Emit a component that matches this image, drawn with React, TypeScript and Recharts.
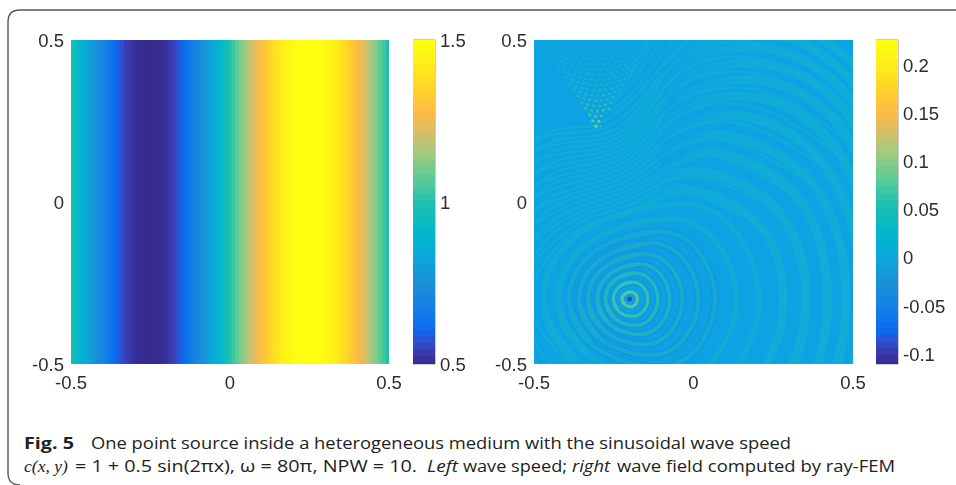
import {
  Bar,
  BarChart,
  Cell,
  ComposedChart,
  Line,
  ReferenceArea,
  Scatter,
  XAxis,
  YAxis,
  ZAxis,
} from 'recharts';

// parula-like colour ramp: [fraction, colour]
const rampStops: [number, string][] = [
  [0, '#372c8e'], [0.03, '#3833a2'], [0.05, '#3840b8'], [0.07, '#3050d0'], [0.09, '#2258e0'], [0.11, '#0a6cf0'],
  [0.18, '#1580e4'], [0.25, '#1a90d8'], [0.35, '#08acd8'], [0.42, '#05b8c8'],
  [0.5, '#1fc0ae'], [0.58, '#5fcb94'], [0.66, '#a6c97f'], [0.72, '#d6bf66'],
  [0.78, '#fdbb45'], [0.85, '#ffd22c'], [0.92, '#ffeb1a'], [1, '#ffff10'],
];

const axisTicks = [-0.5, 0, 0.5];
const speedTicks = [0.5, 1, 1.5];
const fieldTicks = [-0.1, -0.05, 0, 0.05, 0.1, 0.15, 0.2];

// left panel: wave speed per column, left to right, step 0.0125
const speeds = [
  1, 0.96, 0.92, 0.88, 0.85, 0.81, 0.77, 0.74, 0.71, 0.68, 0.65, 0.62, 0.6, 0.57, 0.55, 0.54, 0.52, 0.51, 0.51, 0.5, 0.5,
  0.5, 0.51, 0.51, 0.52, 0.54, 0.55, 0.57, 0.6, 0.62, 0.65, 0.68, 0.71, 0.74, 0.77, 0.81, 0.85, 0.88, 0.92, 0.96, 1,
  1.04, 1.08, 1.12, 1.15, 1.19, 1.23, 1.26, 1.29, 1.32, 1.35, 1.38, 1.4, 1.43, 1.45, 1.46, 1.48, 1.49, 1.49, 1.5, 1.5,
  1.5, 1.49, 1.49, 1.48, 1.46, 1.45, 1.43, 1.4, 1.38, 1.35, 1.32, 1.29, 1.26, 1.23, 1.19, 1.15, 1.12, 1.08, 1.04, 1,
];

const speedLevels = [
  0.5, 0.52, 0.54, 0.56, 0.58, 0.6, 0.62, 0.64, 0.66, 0.68, 0.7, 0.72, 0.74, 0.76, 0.78, 0.8, 0.82,
  0.84, 0.86, 0.88, 0.9, 0.92, 0.94, 0.96, 0.98, 1, 1.02, 1.04, 1.06, 1.08, 1.1, 1.12, 1.14, 1.16,
  1.18, 1.2, 1.22, 1.24, 1.26, 1.28, 1.3, 1.32, 1.34, 1.36, 1.38, 1.4, 1.42, 1.44, 1.46, 1.48, 1.5,
];

const fieldLevels = [
  -0.11, -0.103, -0.096, -0.089, -0.082, -0.075, -0.068, -0.061, -0.054, -0.047, -0.04, -0.033, -0.026,
  -0.019, -0.012, -0.005, 0.002, 0.009, 0.016, 0.023, 0.03, 0.037, 0.044, 0.051, 0.058, 0.065, 0.072,
  0.079, 0.086, 0.093, 0.1, 0.107, 0.114, 0.121, 0.128, 0.135, 0.142, 0.149, 0.156, 0.163, 0.17, 0.177,
  0.184, 0.191, 0.198, 0.205, 0.212, 0.219, 0.226,
];

// right panel, rings closed around the source, upper half: left, shoulder, top, shoulder, right
const closedRings: number[][][] = [
  [[-0.224, -0.3], [-0.216, -0.284], [-0.198, -0.277], [-0.182, -0.284], [-0.176, -0.3]],
  [[-0.251, -0.3], [-0.234, -0.2625], [-0.193, -0.247], [-0.158, -0.2625], [-0.143, -0.3]],
  [[-0.276, -0.3], [-0.249, -0.243], [-0.185, -0.219], [-0.133, -0.243], [-0.112, -0.3]],
  [[-0.301, -0.3], [-0.263, -0.223], [-0.172, -0.191], [-0.103, -0.223], [-0.075, -0.3]],
  [[-0.33, -0.3], [-0.279, -0.201], [-0.157, -0.16], [-0.071, -0.201], [-0.035, -0.3]],
  [[-0.358, -0.3], [-0.293, -0.178], [-0.137, -0.127], [-0.03, -0.178], [0.015, -0.3]],
  [[-0.39, -0.3], [-0.309, -0.152], [-0.112, -0.091], [0.015, -0.152], [0.068, -0.3]],
  [[-0.425, -0.3], [-0.325, -0.124], [-0.083, -0.051], [0.071, -0.124], [0.135, -0.3]],
  [[-0.47, -0.3], [-0.346, -0.091], [-0.048, -0.005], [0.132, -0.091], [0.206, -0.3]],
];
const closedColors = ['#58cb96', '#38c4a8', '#25bdb6', '#1fb9bc', '#1bb5c2', '#18b3c8', '#14b1cc', '#12b0d0', '#10afd6'];
const closedWidths = [3, 3, 3.2, 3.4, 3.6, 3.8, 4, 4.5, 5];
const closedOpacity = [0.95, 0.9, 0.85, 0.8, 0.75, 0.72, 0.7, 0.7, 0.72];
const underWidths = [5, 7, 8, 8, 8, 8, 8, 0, 0];

// larger rings: left part from the left extreme to the top of the ring
const ringLeft: number[][][] = [
  [[-0.518, -0.3], [-0.5, -0.224], [-0.4, -0.104], [-0.3, -0.052], [-0.2, -0.03], [-0.1, 0.02], [-0.008, 0.038]],
  [[-0.56, -0.3], [-0.5, -0.145], [-0.4, -0.064], [-0.3, -0.022], [-0.2, 0], [-0.1, 0.07], [0.04, 0.09]],
  [[-0.6, -0.3], [-0.5, -0.09], [-0.4, -0.028], [-0.3, 0.006], [-0.2, 0.03], [-0.1, 0.1], [0, 0.145], [0.09, 0.15]],
  [[-0.64, -0.3], [-0.5, -0.044], [-0.4, 0.005], [-0.3, 0.035], [-0.2, 0.06], [-0.1, 0.145], [0, 0.195], [0.13, 0.2]],
  [[-0.68, -0.3], [-0.5, 0], [-0.4, 0.035], [-0.3, 0.063], [-0.2, 0.09], [-0.1, 0.19], [0, 0.245], [0.18, 0.26]],
  [[-0.72, -0.3], [-0.5, 0.038], [-0.4, 0.075], [-0.3, 0.09], [-0.2, 0.12], [-0.1, 0.235], [0, 0.3], [0.21, 0.32]],
  [[-0.76, -0.3], [-0.5, 0.069], [-0.4, 0.106], [-0.3, 0.119], [-0.2, 0.15], [-0.1, 0.275], [0, 0.345], [0.24, 0.37]],
  [[-0.8, -0.3], [-0.5, 0.11], [-0.4, 0.138], [-0.3, 0.147], [-0.2, 0.175], [-0.1, 0.32], [0, 0.395], [0.25, 0.42]],
  [[-0.84, -0.3], [-0.5, 0.147], [-0.4, 0.17], [-0.3, 0.175], [-0.2, 0.2], [-0.1, 0.355], [0, 0.44], [0.25, 0.47]],
  [[-0.88, -0.3], [-0.5, 0.181], [-0.4, 0.2], [-0.3, 0.2], [-0.2, 0.235], [-0.1, 0.395], [0, 0.485], [0.25, 0.52]],
  [[-0.92, -0.3], [-0.5, 0.215], [-0.4, 0.232], [-0.3, 0.228], [-0.2, 0.3], [-0.1, 0.42], [0, 0.53], [0.25, 0.57]],
];

// and the right part: top, shoulder, right extreme
const ringRight: number[][][] = [
  [[-0.008, 0.038], [0.196, -0.061], [0.281, -0.3]],
  [[0.04, 0.09], [0.261, -0.024], [0.353, -0.3]],
  [[0.09, 0.15], [0.323, 0.018], [0.42, -0.3]],
  [[0.13, 0.2], [0.376, 0.054], [0.478, -0.3]],
  [[0.18, 0.26], [0.424, 0.096], [0.525, -0.3]],
  [[0.21, 0.32], [0.465, 0.138], [0.57, -0.3]],
  [[0.24, 0.37], [0.499, 0.174], [0.606, -0.3]],
  [[0.25, 0.42], [0.524, 0.209], [0.637, -0.3]],
  [[0.25, 0.47], [0.545, 0.244], [0.667, -0.3]],
  [[0.25, 0.52], [0.564, 0.28], [0.694, -0.3]],
  [[0.25, 0.57], [0.582, 0.315], [0.72, -0.3]],
];
const rightWidths = [8, 9, 9, 9, 9, 9, 9, 9, 9, 9, 9];

// extra tight bands between the crests, left of the slope
const channelBands: number[][] = [
  [-0.185, -0.084, -0.037, -0.015, 0.045],
  [-0.118, -0.046, -0.008, 0.015, 0.085],
  [-0.067, -0.012, 0.02, 0.045, 0.122],
  [-0.022, 0.02, 0.049, 0.075, 0.167],
  [0.019, 0.055, 0.076, 0.105, 0.212],
  [0.053, 0.09, 0.104, 0.135, 0.255],
  [0.09, 0.122, 0.133, 0.162, 0.297],
  [0.128, 0.154, 0.161, 0.187, 0.337],
  [0.164, 0.185, 0.188, 0.217, 0.375],
  [0.198, 0.216, 0.214, 0.267, 0.398],
];
const channelX = [-0.5, -0.4, -0.3, -0.2, -0.1];

// arcs leaving the cusp to the upper right
const foldBands: number[][][] = [
  [[-0.28, 0.27], [-0.2, 0.33], [-0.1, 0.45], [0, 0.58]],
  [[-0.25, 0.31], [-0.2, 0.36], [-0.1, 0.5]],
  [[-0.22, 0.36], [-0.15, 0.46], [-0.1, 0.54]],
  [[-0.2, 0.4], [-0.13, 0.52]],
];

// dotted interference arcs in the triangle above the cusp: yMid, xLeft, xRight, yEnd
const cuspArcs: number[][] = [
  [0.232, -0.31, -0.29, 0.235], [0.248, -0.32, -0.285, 0.252], [0.264, -0.33, -0.275, 0.27],
  [0.28, -0.342, -0.262, 0.29], [0.296, -0.354, -0.25, 0.309], [0.312, -0.366, -0.238, 0.328],
  [0.328, -0.378, -0.226, 0.347], [0.344, -0.39, -0.214, 0.366], [0.36, -0.402, -0.202, 0.385],
  [0.376, -0.414, -0.19, 0.404], [0.392, -0.426, -0.178, 0.423], [0.408, -0.438, -0.166, 0.442],
  [0.424, -0.45, -0.154, 0.461], [0.44, -0.462, -0.142, 0.48], [0.456, -0.474, -0.13, 0.499],
];
const cuspColors = ['#98cc70', '#70ca84', '#50c698', '#38c2a6', '#2abeb0', '#24bab8', '#1eb7be', '#1ab5c4', '#18b3c8', '#16b1cc', '#15b0ce', '#14afd0', '#13aed2', '#12add4', '#11acd6'];

const sourcePoint = [{ x: -0.2, y: -0.3 }];

const hexToRgb = (h: string) => [1, 3, 5].map((i) => parseInt(h.slice(i, i + 2), 16));

function rampColor(t: number) {
  for (let i = 1; i < rampStops.length; i++) {
    if (t <= rampStops[i][0]) {
      const [a, ca] = rampStops[i - 1];
      const [b, cb] = rampStops[i];
      const f = (t - a) / (b - a);
      const c0 = hexToRgb(ca);
      const c1 = hexToRgb(cb);
      return `rgb(${c0.map((v, k) => Math.round(v + (c1[k] - v) * f)).join(',')})`;
    }
  }
  return rampStops[rampStops.length - 1][1];
}

const toPoint = (p: number[]) => ({ x: p[0], y: p[1] });
// the field is symmetric about the source row y = -0.3
const flip = (p: number[]) => [p[0], -0.6 - p[1]];
const flippedBack = (row: number[][]) => [...row].reverse().map(flip);

const tickStyle = { fill: '#2d2d2d', fontSize: 18.5, fontFamily: '"Liberation Sans", Arial, sans-serif' };
const columnData = speeds.map((speed, i) => ({ x: -0.5 + i * 0.0125, speed, span: [-0.5, 0.5] }));

function ColorBar({ levels, lo, hi, ticks, left }: { levels: number[]; lo: number; hi: number; ticks: number[]; left: number }) {
  const data = levels.map((level) => ({ level, span: [0, 1] }));
  return (
    <div style={{ position: 'absolute', left, top: 0, filter: 'blur(0.4px)' }}>
      <BarChart width={80} height={400} data={data} layout="vertical" margin={{ top: 40, bottom: 36, left: 0, right: 0 }}>
        <XAxis type="number" hide domain={[0, 1]} allowDataOverflow />
        <YAxis
          type="number"
          dataKey="level"
          orientation="right"
          reversed
          width={58}
          domain={[lo, hi]}
          ticks={ticks}
          interval={0}
          allowDataOverflow
          axisLine={false}
          tickLine={false}
          tickSize={0}
          tickMargin={5}
          tick={tickStyle}
          tickFormatter={(v: number) => String(v)}
        />
        <Bar dataKey="span" barSize={9} isAnimationActive={false}>
          {levels.map((level) => {
            const c = rampColor((level - lo) / (hi - lo));
            return <Cell key={level} fill={c} stroke={c} strokeWidth={4} />;
          })}
        </Bar>
        <ReferenceArea x1={0} x2={1} y1={lo} y2={hi} fill="none" stroke="#9a9a9a" strokeWidth={1} />
      </BarChart>
    </div>
  );
}

function SpeedPanel() {
  return (
    <div style={{ position: 'absolute', left: 0, top: 0, filter: 'blur(0.4px)' }}>
      <BarChart width={420} height={400} data={columnData} margin={{ top: 40, bottom: 6, left: 11, right: 31 }}>
        <XAxis type="number" dataKey="x" domain={[-0.5, 0.5]} ticks={axisTicks} interval={0} allowDataOverflow height={30} axisLine={false} tickLine={false} tickMargin={6} tick={tickStyle} />
        <YAxis type="number" domain={[-0.5, 0.5]} ticks={axisTicks} interval={0} allowDataOverflow width={60} axisLine={false} tickLine={false} tickSize={0} tickMargin={7} tick={tickStyle} />
        <Bar dataKey="span" barSize={5} isAnimationActive={false}>
          {speeds.map((speed, i) => {
            const c = rampColor(speed - 0.5);
            return <Cell key={i} fill={c} stroke={c} strokeWidth={1.5} />;
          })}
        </Bar>
      </BarChart>
    </div>
  );
}

function FieldPanel() {
  const crest = '#10afd6';
  return (
    <div style={{ position: 'absolute', left: 463, top: 0, filter: 'blur(0.6px)' }}>
      <ComposedChart width={420} height={400} margin={{ top: 40, bottom: 6, left: 11, right: 30 }}>
        <defs>
          {/* wide right arcs fade in so they meet the thin left arcs without a step */}
          <linearGradient id="arcFade" x1="0" x2="1" y1="0" y2="0">
            <stop offset="0" stopColor={crest} stopOpacity={0} />
            <stop offset="0.38" stopColor={crest} stopOpacity={0.8} />
            <stop offset="1" stopColor={crest} stopOpacity={0.8} />
          </linearGradient>
        </defs>
        <XAxis type="number" dataKey="x" domain={[-0.5, 0.5]} ticks={axisTicks} interval={0} allowDataOverflow height={30} axisLine={false} tickLine={false} tickMargin={6} tick={tickStyle} />
        <YAxis type="number" dataKey="y" domain={[-0.5, 0.5]} ticks={axisTicks} interval={0} allowDataOverflow width={60} axisLine={false} tickLine={false} tickSize={0} tickMargin={7} tick={tickStyle} />
        <ZAxis range={[18, 18]} />
        <ReferenceArea x1={-0.5} x2={0.5} y1={-0.5} y2={0.5} fill="#0da2e2" fillOpacity={1} stroke="none" />
        {ringRight.map((row, i) => {
          const left = ringLeft[i];
          const before = left.slice(-3, -1);
          return (
            <Line
              key={`r${i}`}
              data={[...before, ...row, ...flippedBack(row.slice(0, -1)), ...flippedBack(before)].map(toPoint)}
              dataKey="y"
              type="natural"
              stroke="url(#arcFade)"
              strokeWidth={rightWidths[i]}
              dot={false}
              isAnimationActive={false}
            />
          );
        })}
        {ringLeft.map((row, i) => (
          <Line
            key={`l${i}`}
            data={[...flippedBack(row.slice(1)), ...row, ringRight[i][1]].map(toPoint)}
            dataKey="y"
            type="basis"
            stroke={crest}
            strokeOpacity={0.8}
            strokeWidth={2.4}
            dot={false}
            isAnimationActive={false}
          />
        ))}
        {closedRings.map((row, i) => (
          <Line
            key={`u${i}`}
            data={[flip(row[1]), ...row, ...flippedBack(row.slice(0, -1)), row[1], row[2]].map(toPoint)}
            dataKey="y"
            type="natural"
            stroke="#1692e6"
            strokeOpacity={0.6}
            strokeWidth={underWidths[i]}
            dot={false}
            isAnimationActive={false}
          />
        ))}
        {closedRings.map((row, i) => (
          <Line
            key={`o${i}`}
            data={[flip(row[1]), ...row, ...flippedBack(row.slice(0, -1)), row[1], row[2]].map(toPoint)}
            dataKey="y"
            type="natural"
            stroke={closedColors[i]}
            strokeOpacity={closedOpacity[i]}
            strokeWidth={closedWidths[i]}
            dot={false}
            isAnimationActive={false}
          />
        ))}
        {channelBands.map((row, i) => (
          <Line
            key={`c${i}`}
            data={row.map((y, k) => ({ x: channelX[k], y }))}
            dataKey="y"
            type="basis"
            stroke={crest}
            strokeOpacity={0.8}
            strokeWidth={2.4}
            dot={false}
            isAnimationActive={false}
          />
        ))}
        {foldBands.map((row, i) => (
          <Line
            key={`f${i}`}
            data={row.map(toPoint)}
            dataKey="y"
            type="natural"
            stroke={crest}
            strokeOpacity={0.6}
            strokeWidth={2.4}
            dot={false}
            isAnimationActive={false}
          />
        ))}
        {cuspArcs.map((row, i) => (
          <Line
            key={`a${i}`}
            data={[[row[1], row[3]], [(row[1] + row[2]) / 2, row[0]], [row[2], row[3]]].map(toPoint)}
            dataKey="y"
            type="natural"
            stroke={cuspColors[i]}
            strokeWidth={2.2}
            strokeDasharray="3 3"
            dot={false}
            isAnimationActive={false}
          />
        ))}
        <Scatter data={sourcePoint} dataKey="y" fill="#3440c0" isAnimationActive={false} />
      </ComposedChart>
    </div>
  );
}

const captionFont = '"Open Sans", "Noto Sans", sans-serif';
const mathFont = '"Liberation Serif", serif';

function Caption() {
  const common = { fontSize: 16.5, fill: '#222', lengthAdjust: 'spacingAndGlyphs' as const };
  return (
    <svg width={956} height={485} style={{ position: 'absolute', left: 0, top: 0 }}>
      <path d="M956,10 H20 Q8,10 8,22 V473 Q8,485 20,485" fill="none" stroke="#555" strokeWidth={1.4} />
      <text x={24} y={449} fontFamily={captionFont} fontWeight={700} textLength={50} {...common}>Fig. 5</text>
      <text x={91} y={449} fontFamily={captionFont} textLength={700} {...common}>One point source inside a heterogeneous medium with the sinusoidal wave speed</text>
      <text x={24} y={472} fontFamily={mathFont} fontStyle="italic" textLength={44} {...common}>c(x, y)</text>
      <text x={75} y={472} fontFamily={captionFont} textLength={342} {...common}>= 1 + 0.5 sin(2πx), ω = 80π, NPW = 10.</text>
      <text x={427} y={472} fontFamily={captionFont} fontStyle="italic" textLength={31} {...common}>Left</text>
      <text x={463} y={472} fontFamily={captionFont} textLength={104} {...common}>wave speed;</text>
      <text x={572} y={472} fontFamily={captionFont} fontStyle="italic" textLength={38} {...common}>right</text>
      <text x={617} y={472} fontFamily={captionFont} textLength={278} {...common}>wave field computed by ray-FEM</text>
    </svg>
  );
}

export default function App() {
  return (
    <div style={{ position: 'absolute', left: 0, top: 0, width: 956, height: 485, background: '#fff', overflow: 'hidden' }}>
      <Caption />
      <SpeedPanel />
      <ColorBar levels={speedLevels} lo={0.5} hi={1.5} ticks={speedTicks} left={413} />
      <FieldPanel />
      <ColorBar levels={fieldLevels} lo={-0.11} hi={0.226} ticks={fieldTicks} left={876} />
    </div>
  );
}
